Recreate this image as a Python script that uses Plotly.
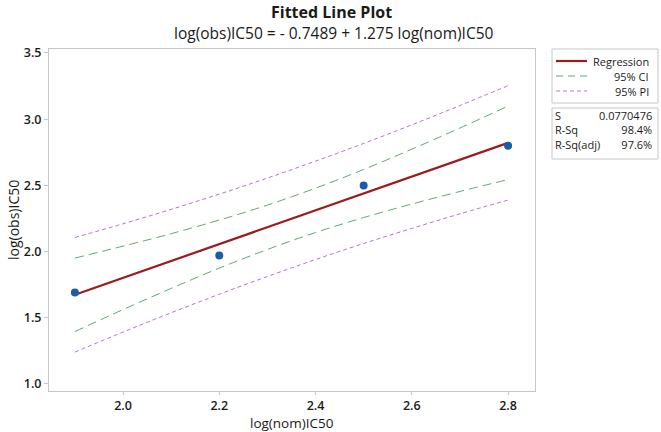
import plotly.graph_objects as go

x_obs = [1.9, 2.2, 2.5, 2.8]
y_obs = [1.69, 1.97, 2.50, 2.80]

# Fitted line and bands, read at these x positions
x_band = [1.9, 2.0, 2.1, 2.2, 2.3, 2.4, 2.5, 2.6, 2.7, 2.8]
y_fit = [1.674, 1.801, 1.929, 2.056, 2.184, 2.311, 2.439, 2.566, 2.694, 2.821]
ci_upper = [1.951, 2.041, 2.135, 2.238, 2.351, 2.479, 2.620, 2.773, 2.933, 3.099]
ci_lower = [1.396, 1.562, 1.722, 1.875, 2.016, 2.144, 2.257, 2.359, 2.454, 2.544]
pi_upper = [2.106, 2.210, 2.319, 2.434, 2.555, 2.683, 2.817, 2.957, 3.103, 3.253]
pi_lower = [1.241, 1.392, 1.538, 1.678, 1.812, 1.940, 2.061, 2.175, 2.285, 2.389]

x_ticks = [2.0, 2.2, 2.4, 2.6, 2.8]
y_ticks = [1.0, 1.5, 2.0, 2.5, 3.0, 3.5]

legend_labels = ["Regression", "95% CI", "95% PI"]
stat_labels = ["S", "R-Sq", "R-Sq(adj)"]
stat_values = ["0.0770476", "98.4%", "97.6%"]

title_text = "Fitted Line Plot"
subtitle_text = "log(obs)IC50 = - 0.7489 + 1.275 log(nom)IC50"

FONT = "Open Sans"
TXT = "#1a1a1a"
RED = "#9a1c1f"
GREEN = "#62a872"
PURPLE = "#b873cc"
BLUE = "#1a5ca8"
GRID = "#c6c6c6"

fig = go.Figure()
for yy in (pi_upper, pi_lower):
    fig.add_trace(go.Scatter(x=x_band, y=yy, mode="lines", line=dict(color=PURPLE, width=1, dash="4px,3px", shape="spline"), hoverinfo="skip"))
for yy in (ci_upper, ci_lower):
    fig.add_trace(go.Scatter(x=x_band, y=yy, mode="lines", line=dict(color=GREEN, width=1, dash="9px,5px", shape="spline"), hoverinfo="skip"))
fig.add_trace(go.Scatter(x=x_band, y=y_fit, mode="lines", line=dict(color=RED, width=2.2)))
fig.add_trace(go.Scatter(x=x_obs, y=y_obs, mode="markers", marker=dict(color=BLUE, size=8)))

W, H = 661, 432
L, T = 49, 49
R = W - 535
B = H - 391
PW, PH = W - L - R, H - T - B

def px(x):
    return (x - L) / PW

def py(y):
    return (H - B - y) / PH

shapes = []
annotations = []
# legend box
shapes.append(dict(type="rect", xref="paper", yref="paper", x0=px(552), x1=px(658), y0=py(103), y1=py(49), line=dict(color=GRID, width=1)))
# stats box
shapes.append(dict(type="rect", xref="paper", yref="paper", x0=px(552), x1=px(658), y0=py(159), y1=py(108), line=dict(color=GRID, width=1)))

def note(x, y, text, size, xanchor="center", yanchor="middle", align="center", angle=0):
    return dict(xref="paper", yref="paper", x=px(x), y=py(y), text=text, showarrow=False,
                xanchor=xanchor, yanchor=yanchor, align=align, textangle=angle, borderpad=0,
                font=dict(family=FONT, size=size, color=TXT))

leg_styles = [dict(color=RED, width=2.2), dict(color=GREEN, width=1, dash="7px,5px"), dict(color=PURPLE, width=1, dash="4px,3px")]
leg_rows = [61, 76, 91]
for lab, st, ry in zip(legend_labels, leg_styles, leg_rows):
    shapes.append(dict(type="line", xref="paper", yref="paper", x0=px(556), x1=px(587), y0=py(ry), y1=py(ry), line=st))
    annotations.append(note(650, ry, lab, 11, xanchor="right"))

annotations.append(note(554, 130, "<br>".join(stat_labels), 11, xanchor="left", align="left"))
annotations.append(note(653, 130, "<br>".join(stat_values), 11, xanchor="right", align="right"))

annotations.append(note(331, 0, "<b>" + title_text + "</b>", 16, yanchor="top"))
annotations.append(note(334, 33, subtitle_text, 15.5))
annotations.append(note(292, 422.8, "log(nom)IC50", 13.5))
annotations.append(note(13, 220, "log(obs)IC50", 14, angle=-90))

axis_common = dict(showgrid=False, zeroline=False, showline=True, linecolor=GRID, linewidth=1, ticks="outside", tickcolor=GRID, tickfont=dict(family=FONT, size=12.5, color=TXT, weight=600))
fig.update_layout(
    width=W, height=H, margin=dict(l=L, r=R, t=T, b=B),
    paper_bgcolor="white", plot_bgcolor="white", showlegend=False,
    xaxis=dict(range=[1.8462, 2.856], tickvals=x_ticks, ticktext=[f"{v:.1f}" for v in x_ticks], mirror=True, ticklen=3, **axis_common),
    yaxis=dict(range=[0.947, 3.53], tickvals=y_ticks, ticktext=[f"{v:.1f}" for v in y_ticks], mirror=True, ticklen=4, **axis_common),
    shapes=shapes, annotations=annotations,
)
# remove the default page margin so the 661x432 figure fills the window exactly
fig.write_html("out.html", config={"displayModeBar": False},
               post_script="document.body.style.margin='0';document.body.style.padding='0';document.body.style.overflow='hidden';")
